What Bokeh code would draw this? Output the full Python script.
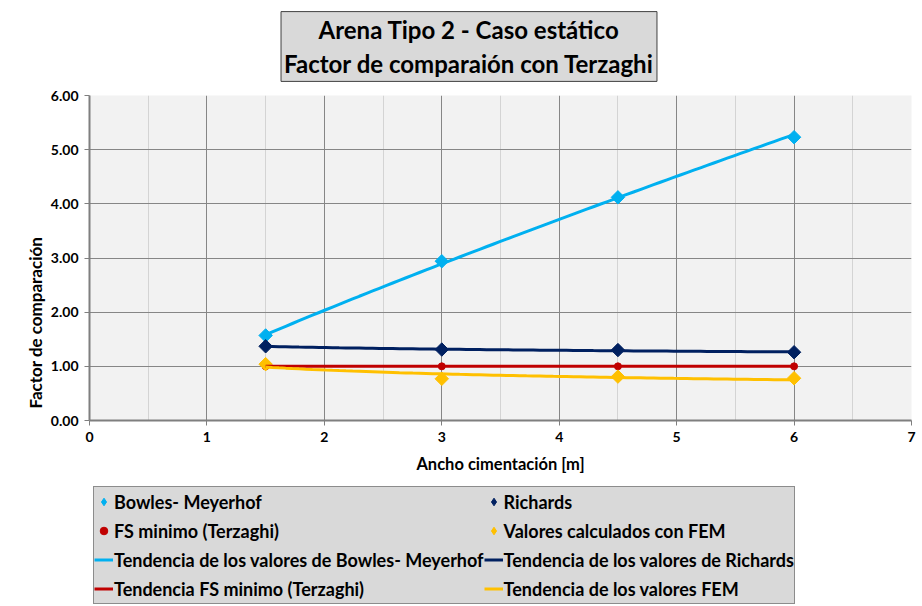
import numpy as np
from bokeh.plotting import figure
from bokeh.layouts import column
from bokeh.models import (Legend, LegendItem, NumeralTickFormatter, FixedTicker,
                          Title, Range1d, Label)
from bokeh.embed import file_html
from bokeh.resources import INLINE

# ---- data ----
ancho = [1.5, 3.0, 4.5, 6.0]
bowles = [1.57, 2.94, 4.12, 5.23]
richards = [1.37, 1.31, 1.30, 1.26]
fs_min = [1.00, 1.00, 1.00, 1.00]
fem = [1.04, 0.77, 0.81, 0.78]
x_ticks = [0, 1, 2, 3, 4, 5, 6, 7]
y_ticks = [0, 1, 2, 3, 4, 5, 6]

TITLE = "Arena Tipo 2 - Caso estático\nFactor de comparaión con Terzaghi"
FONT = "Lato"
C_BOWLES = "#00b0f0"
C_RICH = "#002060"
C_FS = "#c00000"
C_FEM = "#ffc000"
W = 920
FL, FR = 89, 911          # frame left / right in pixels
H_TITLE, H_MAIN, H_LEG = 86, 394, 124


def power_trend(x, y):
    """Least-squares power trendline (as a spreadsheet would compute it)."""
    x = np.asarray(x, dtype=float)
    y = np.asarray(y, dtype=float)
    b, ln_a = np.polyfit(np.log(x), np.log(y), 1)
    xs = np.linspace(x.min(), x.max(), 80)
    return xs, np.exp(ln_a) * xs ** b


def blank(height):
    # pixel-unit panel; its frame is aligned with the main chart frame by the column
    f = figure(width=W, height=height, x_range=Range1d(FL, FR), y_range=Range1d(0, height),
               output_backend="svg", toolbar_location=None,
               x_axis_location=None, y_axis_location=None, min_border=0,
               min_border_left=FL, min_border_right=W - FR)
    f.grid.visible = False
    f.outline_line_color = None
    f.background_fill_color = "#ffffff"
    f.border_fill_color = "#ffffff"
    return f


# ---- title panel ----
pt = blank(H_TITLE)
pt.add_layout(Label(x=468.5, y=H_TITLE - 46, text=TITLE, text_align="center",
                    text_baseline="middle", text_font=FONT, text_font_size="24px",
                    text_font_style="bold", text_color="#000000", text_line_height=1.2,
                    background_fill_color="#d9d9d9", border_line_color="#404040",
                    border_line_width=1, padding=3))

# ---- main chart ----
p = figure(width=W, height=H_MAIN, x_range=Range1d(0, 7), y_range=Range1d(0, 6),
           output_backend="svg", toolbar_location=None,
           min_border_left=FL, min_border_right=W - FR, min_border_top=9,
           min_border_bottom=60)
p.background_fill_color = "#f2f2f2"
p.border_fill_color = "#ffffff"
p.outline_line_color = None

minor_x = [t + 0.5 for t in x_ticks[:-1]]
p.xaxis.ticker = FixedTicker(ticks=x_ticks, minor_ticks=minor_x)
p.yaxis.ticker = FixedTicker(ticks=y_ticks)
p.xgrid.ticker = FixedTicker(ticks=x_ticks, minor_ticks=minor_x)
p.ygrid.ticker = FixedTicker(ticks=y_ticks)
p.xgrid.grid_line_color = "#868686"
p.ygrid.grid_line_color = "#868686"
p.xgrid.minor_grid_line_color = "#d4d4d4"

p.yaxis.formatter = NumeralTickFormatter(format="0.00")
for ax in (p.xaxis, p.yaxis):
    ax.axis_line_color = "#7f7f7f"
    ax.axis_line_width = 2
    ax.major_tick_line_color = "#7f7f7f"
    ax.major_tick_out = 5
    ax.major_tick_in = 0
    ax.minor_tick_out = 0
    ax.minor_tick_in = 0
    ax.major_label_text_font = FONT
    ax.major_label_text_font_style = "bold"
    ax.major_label_text_font_size = "14px"
    ax.major_label_text_color = "#000000"
    ax.major_label_standoff = 6

p.xaxis.axis_label = "Ancho cimentación [m]"
p.xaxis.axis_label_text_font = FONT
p.xaxis.axis_label_text_font_style = "bold"
p.xaxis.axis_label_text_font_size = "16.5px"
p.xaxis.axis_label_text_color = "#000000"
p.xaxis.axis_label_standoff = 9

p.add_layout(Title(text="Factor de comparación", align="left", offset=12,
                   text_font=FONT, text_font_size="17px", text_font_style="bold",
                   text_color="#000000", standoff=3), "left")

mk = dict(marker="square", angle=np.pi / 4, size=9.5)
r_b = p.scatter(ancho, bowles, color=C_BOWLES, **mk)
r_r = p.scatter(ancho, richards, color=C_RICH, **mk)
r_f = p.scatter(ancho, fs_min, marker="circle", size=7, color=C_FS)
r_e = p.scatter(ancho, fem, color=C_FEM, **mk)

xb, yb = power_trend(ancho, bowles)
xr, yr = power_trend(ancho, richards)
xf, yf = power_trend(ancho, fs_min)
xe, ye = power_trend(ancho, fem)
p.line(xb, yb, line_width=3, color=C_BOWLES)
p.line(xr, yr, line_width=3, color=C_RICH)
p.line(xf, yf, line_width=3, color=C_FS)
p.line(xe, ye, line_width=3, color=C_FEM)

# ---- legend panel: same series drawn again (they fall outside this panel's
#      pixel ranges, so only their legend swatches are seen) ----
pl = blank(H_LEG)
lk = dict(marker="diamond", size=12)
g_b = pl.scatter(ancho, bowles, color=C_BOWLES, **lk)
g_r = pl.scatter(ancho, richards, color=C_RICH, **lk)
g_f = pl.scatter(ancho, fs_min, marker="circle", size=6, color=C_FS)
g_e = pl.scatter(ancho, fem, color=C_FEM, **lk)
l_b = pl.line(xb, yb, line_width=3, color=C_BOWLES)
l_r = pl.line(xr, yr, line_width=3, color=C_RICH)
l_f = pl.line(xf, yf, line_width=3, color=C_FS)
l_e = pl.line(xe, ye, line_width=3, color=C_FEM)

items = [
    LegendItem(label="Bowles- Meyerhof", renderers=[g_b]),
    LegendItem(label="Richards", renderers=[g_r]),
    LegendItem(label="FS minimo (Terzaghi)", renderers=[g_f]),
    LegendItem(label="Valores calculados con FEM", renderers=[g_e]),
    LegendItem(label="Tendencia de los valores de Bowles- Meyerhof", renderers=[l_b]),
    LegendItem(label="Tendencia de los valores de Richards", renderers=[l_r]),
    LegendItem(label="Tendencia FS minimo (Terzaghi)", renderers=[l_f]),
    LegendItem(label="Tendencia de los valores FEM", renderers=[l_e]),
]
legend = Legend(items=items, orientation="horizontal", ncols=2, location=(4, 0),
                background_fill_color="#d9d9d9", background_fill_alpha=1.0,
                border_line_color="#404040", border_line_width=1,
                label_text_font=FONT, label_text_font_style="bold",
                label_text_font_size="18px", label_text_color="#000000",
                glyph_width=19, glyph_height=29, label_height=29,
                label_standoff=1, spacing=0, padding=0, margin=0)
pl.add_layout(legend, "center")

layout = column(pt, p, pl, spacing=0)
open("out.html", "w").write(file_html(layout, INLINE))
